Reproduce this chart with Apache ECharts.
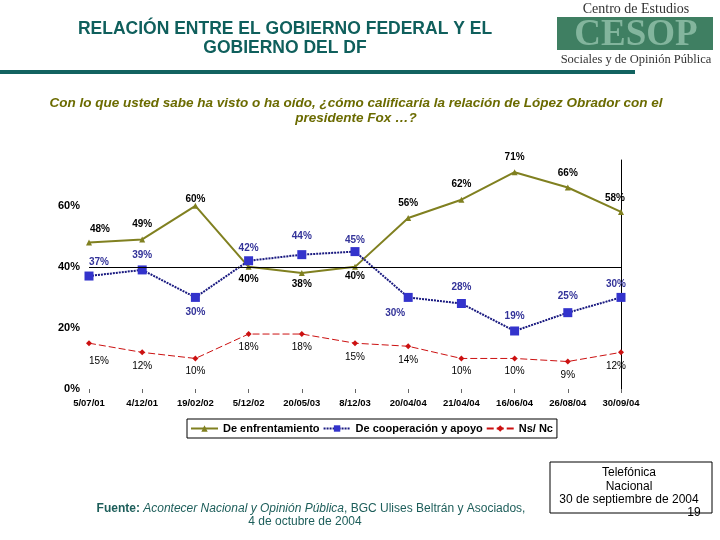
<!DOCTYPE html>
<html>
<head>
<meta charset="utf-8">
<script src="https://cdn.jsdelivr.net/npm/echarts@6/dist/echarts.min.js"></script>
<style>html,body{margin:0;padding:0;background:#fff;}#c{width:720px;height:540px;}</style>
</head>
<body>
<div id="c"></div>
<script>
var categories = ['5/07/01','4/12/01','19/02/02','5/12/02','20/05/03','8/12/03','20/04/04','21/04/04','16/06/04','26/08/04','30/09/04'];
var enfrentamiento = [48, 49, 60, 40, 38, 40, 56, 62, 71, 66, 58];
var cooperacion = [37, 39, 30, 42, 44, 45, 30, 28, 19, 25, 30];
var nsnc = [15, 12, 10, 18, 18, 15, 14, 10, 10, 9, 12];
var yTicks = [0, 20, 40, 60];
var seriesNames = ['De enfrentamiento', 'De cooperación y apoyo', 'Ns/ Nc'];

// label offsets (styling only)
var offEnf = [[11,-13],[0,-15],[0,-7],[0,12],[0,11],[0,9],[0,-15],[0,-15],[0,-15],[0,-14],[-6,-14]];
var offCoop = [[10,-14],[0,-15],[0,15],[0,-13],[0,-18],[0,-11],[-13,16],[0,-16],[0,-15],[0,-16],[-5,-13]];
var offNs = [[10,18],[0,14],[0,13],[0,13],[0,13],[0,14],[0,14],[0,13],[0,13],[0,14],[-5,14]];

function withLabels(vals, offs, color, weight) {
  return vals.map(function (v, i) {
    return {
      value: v,
      label: {
        show: true, position: 'inside', offset: offs[i],
        formatter: '{c}%', color: color, fontSize: 10, fontWeight: weight,
        fontFamily: 'Liberation Sans'
      }
    };
  });
}

var chart = echarts.init(document.getElementById('c'));
var teal = '#0f5f5c';
chart.setOption({
  animation: false,
  backgroundColor: '#fff',
  textStyle: { fontFamily: 'Liberation Sans' },
  grid: { left: 89, right: 99, top: 160, bottom: 151 },
  legend: {
    left: 187, top: 419,
    data: seriesNames,
    borderColor: '#000', borderWidth: 1,
    padding: [4, 4, 4, 3],
    itemGap: 3, itemWidth: 27, itemHeight: 8,
    textStyle: { fontSize: 11, fontWeight: 'bold', color: '#000', fontFamily: 'Liberation Sans' }
  },
  xAxis: {
    type: 'category', data: categories, boundaryGap: false,
    axisLine: { show: false },
    axisTick: { show: true, length: 4, lineStyle: { color: '#666' } },
    axisLabel: { margin: 9, interval: 0, fontSize: 9.5, fontWeight: 'bold', color: '#000' }
  },
  yAxis: [{
    type: 'value', min: 0, max: 75, interval: 20,
    axisLine: { show: false }, axisTick: { show: false },
    splitLine: { show: false },
    axisLabel: {
      margin: 9, fontSize: 11, fontWeight: 'bold', color: '#000', showMaxLabel: false,
      formatter: function (v) { return yTicks.indexOf(v) >= 0 ? v + '%' : ''; }
    }
  }, {
    type: 'value', min: 0, max: 75, interval: 20, position: 'right',
    axisLine: { show: true, lineStyle: { color: '#000', width: 1 } },
    axisTick: { show: false }, axisLabel: { show: false }, splitLine: { show: false }
  }],
  series: [{
    name: seriesNames[0], type: 'line',
    data: withLabels(enfrentamiento, offEnf, '#000', 'bold'),
    symbol: 'triangle', symbolSize: 6,
    itemStyle: { color: '#808020' },
    lineStyle: { color: '#808020', width: 2 },
    markLine: {
      silent: true, symbol: 'none', label: { show: false },
      lineStyle: { color: '#000', width: 1, type: 'solid' },
      data: [{ yAxis: 40 }]
    },
    z: 3
  }, {
    name: seriesNames[1], type: 'line',
    data: withLabels(cooperacion, offCoop, '#333399', 'bold'),
    symbol: 'rect', symbolSize: 9,
    itemStyle: { color: '#3333cc' },
    lineStyle: { color: '#1a1a80', width: 2, type: [2, 1] },
    z: 4
  }, {
    name: seriesNames[2], type: 'line',
    data: withLabels(nsnc, offNs, '#000', 'normal'),
    symbol: 'diamond', symbolSize: 6,
    itemStyle: { color: '#cc1111' },
    lineStyle: { color: '#cc1111', width: 1, type: [7, 3] },
    z: 2
  }],
  graphic: [
    { type: 'text', x: 285, y: 29, style: { text: 'RELACIÓN ENTRE EL GOBIERNO FEDERAL Y EL', align: 'center', verticalAlign: 'middle', fontSize: 17.5, fontWeight: 'bold', fill: teal, fontFamily: 'Liberation Sans' } },
    { type: 'text', x: 285, y: 48, style: { text: 'GOBIERNO DEL DF', align: 'center', verticalAlign: 'middle', fontSize: 17.5, fontWeight: 'bold', fill: teal, fontFamily: 'Liberation Sans' } },
    { type: 'rect', shape: { x: 0, y: 70, width: 635, height: 4 }, style: { fill: '#126360' } },
    { type: 'text', x: 356, y: 103, style: { text: 'Con lo que usted sabe ha visto o ha oído, ¿cómo calificaría la relación de López Obrador con el', align: 'center', verticalAlign: 'middle', fontSize: 13.5, fontWeight: 'bold', fontStyle: 'italic', fill: '#6b6b00', fontFamily: 'Liberation Sans' } },
    { type: 'text', x: 356, y: 118, style: { text: 'presidente Fox …?', align: 'center', verticalAlign: 'middle', fontSize: 13.5, fontWeight: 'bold', fontStyle: 'italic', fill: '#6b6b00', fontFamily: 'Liberation Sans' } },
    // logo
    { type: 'text', x: 636, y: 9, style: { text: 'Centro de Estudios', align: 'center', verticalAlign: 'middle', fontSize: 14, fill: '#333', fontFamily: 'Liberation Serif' } },
    { type: 'rect', shape: { x: 557, y: 17, width: 156, height: 33 }, style: { fill: '#3f7f62' } },
    { type: 'text', x: 636, y: 35, style: { text: 'CESOP', align: 'center', verticalAlign: 'middle', fontSize: 37, fontWeight: 'bold', fill: '#83b59d', fontFamily: 'Liberation Serif' } },
    { type: 'text', x: 636, y: 60, style: { text: 'Sociales y de Opinión Pública', align: 'center', verticalAlign: 'middle', fontSize: 12.5, fill: '#333', fontFamily: 'Liberation Serif' } },
    // footer
    { type: 'text', x: 311, y: 509, style: {
      text: '{b|Fuente:} {i|Acontecer Nacional y Opinión Pública}{n|, BGC Ulises Beltrán y Asociados,}',
      align: 'center', verticalAlign: 'middle',
      rich: {
        b: { fontSize: 12, fontWeight: 'bold', fill: '#1d5e5a', fontFamily: 'Liberation Sans' },
        i: { fontSize: 12, fontStyle: 'italic', fill: '#1d5e5a', fontFamily: 'Liberation Sans' },
        n: { fontSize: 12, fill: '#1d5e5a', fontFamily: 'Liberation Sans' }
      }
    } },
    { type: 'text', x: 305, y: 522, style: { text: '4 de octubre de 2004', align: 'center', verticalAlign: 'middle', fontSize: 12, fill: '#1d5e5a', fontFamily: 'Liberation Sans' } },
    { type: 'rect', shape: { x: 550, y: 462, width: 162, height: 51 }, style: { fill: 'none', stroke: '#000', lineWidth: 1 } },
    { type: 'text', x: 629, y: 473, style: { text: 'Telefónica', align: 'center', verticalAlign: 'middle', fontSize: 12, fill: '#000', fontFamily: 'Liberation Sans' } },
    { type: 'text', x: 629, y: 487, style: { text: 'Nacional', align: 'center', verticalAlign: 'middle', fontSize: 12, fill: '#000', fontFamily: 'Liberation Sans' } },
    { type: 'text', x: 629, y: 500, style: { text: '30 de septiembre de 2004', align: 'center', verticalAlign: 'middle', fontSize: 12, fill: '#000', fontFamily: 'Liberation Sans' } },
    { type: 'text', x: 694, y: 513, style: { text: '19', align: 'center', verticalAlign: 'middle', fontSize: 12, fill: '#000', fontFamily: 'Liberation Sans' } }
  ]
});
</script>
</body>
</html>
